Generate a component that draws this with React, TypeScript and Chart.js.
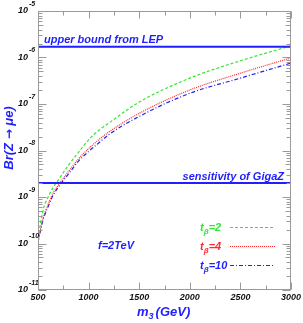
import React, { useEffect, useRef } from "react";
import { Chart, registerables } from "chart.js";

Chart.register(...registerables);

// ---- data ----
const m3 = [500, 550, 600, 650, 700, 800, 900, 1000, 1100, 1200, 1500, 2000, 2500, 3000];
const brTb2 = [1.32e-10, 5.2e-10, 1.0e-9, 1.6e-9, 2.3e-9, 4.8e-9, 9.1e-9, 1.7e-8, 2.7e-8, 3.9e-8, 1.1e-7, 3.6e-7, 8.5e-7, 1.78e-6];
const brTb4 = [1.12e-10, 3.5e-10, 6.9e-10, 1.23e-9, 1.78e-9, 3.5e-9, 6.6e-9, 1.1e-8, 1.7e-8, 2.5e-8, 6.3e-8, 2.0e-7, 4.6e-7, 9.8e-7];
const brTb10 = [1.07e-10, 3.2e-10, 6.2e-10, 1.1e-9, 1.62e-9, 3.1e-9, 5.9e-9, 9.5e-9, 1.45e-8, 2.2e-8, 5.4e-8, 1.7e-7, 3.6e-7, 7.6e-7];
const lepBound = 1.7e-6;
const gigaZ = 2.0e-9;
const xRange = [500, 3000];
const xTickLabels = [500, 1000, 1500, 2000, 2500, 3000];
const yExponents = [-11, -10, -9, -8, -7, -6, -5];
const seriesLabels = ["2", "4", "10"];

const FONT = "'Liberation Sans', Arial, sans-serif";
const BLUE = "#1f1fff";
const GREEN = "#33e633";
const RED = "#ff2a2a";
const AXIS = "#9a9a9a";

const pts = (ys: number[]) => m3.map((x, i) => ({ x, y: ys[i] }));
const flat = (v: number) => [{ x: xRange[0], y: v }, { x: xRange[1], y: v }];

const curveDash: Record<string, number[]> = {
  "2": [3, 2],
  "4": [1, 1],
  "10": [4, 2, 1, 2],
};
const curveColor: Record<string, string> = { "2": GREEN, "4": RED, "10": "#2323e6" };

const overlay = {
  id: "overlay",
  afterDraw(chart: any) {
    const { ctx, chartArea, scales } = chart;
    const { left, right, top, bottom } = chartArea;
    const xs = scales.x;
    const ys = scales.y;
    ctx.save();
    // frame
    ctx.strokeStyle = AXIS;
    ctx.lineWidth = 1;
    ctx.setLineDash([]);
    const L = Math.round(left) + 0.5, R = Math.round(right) - 0.5;
    const T = Math.round(top) + 0.5, B = Math.round(bottom) - 0.5;
    ctx.strokeRect(L, T, R - L, B - T);
    ctx.beginPath();
    // x ticks
    for (let v = xRange[0]; v <= xRange[1]; v += 250) {
      const px = Math.round(xs.getPixelForValue(v)) + 0.5;
      const len = v % 500 === 0 ? 7 : 4;
      ctx.moveTo(px, B); ctx.lineTo(px, B - len);
      ctx.moveTo(px, T); ctx.lineTo(px, T + len);
    }
    // y ticks
    for (const e of yExponents) {
      for (let k = 1; k <= 9; k++) {
        if (e === -5 && k > 1) break;
        const py = Math.round(ys.getPixelForValue(k * Math.pow(10, e))) + 0.5;
        const len = k === 1 ? 8 : k === 5 ? 5 : 4;
        ctx.moveTo(L, py); ctx.lineTo(L + len, py);
        ctx.moveTo(R, py); ctx.lineTo(R - len, py);
      }
    }
    ctx.stroke();

    // x tick labels
    ctx.fillStyle = "#111";
    ctx.font = `bold italic 9px ${FONT}`;
    ctx.textAlign = "center";
    ctx.textBaseline = "middle";
    for (const v of xTickLabels) {
      ctx.fillText(String(v), xs.getPixelForValue(v), 298);
    }
    // y tick labels 10^e
    for (const e of yExponents) {
      const py = ys.getPixelForValue(Math.pow(10, e));
      ctx.font = `bold italic 9px ${FONT}`;
      ctx.textAlign = "right";
      ctx.fillText("10", 28, py);
      ctx.font = `bold italic 7px ${FONT}`;
      ctx.textAlign = "left";
      ctx.fillText(String(e), 29, py - 7);
    }

    // annotations
    ctx.fillStyle = BLUE;
    ctx.font = `bold italic 11px ${FONT}`;
    ctx.textBaseline = "alphabetic";
    ctx.textAlign = "left";
    ctx.fillText("upper bound from LEP", 44, 43);
    ctx.textAlign = "right";
    ctx.fillText("sensitivity of GigaZ", 284, 180);
    ctx.textAlign = "left";
    ctx.fillText("f=2TeV", 98, 249);

    // legend
    const legY = [227, 246, 265];
    seriesLabels.forEach((lab, i) => {
      const y0 = legY[i];
      const col = curveColor[lab];
      ctx.fillStyle = lab === "2" ? GREEN : lab === "4" ? RED : BLUE;
      ctx.textAlign = "left";
      ctx.textBaseline = "alphabetic";
      ctx.font = `bold italic 11px ${FONT}`;
      let x0 = 200;
      ctx.fillText("t", x0, y0 + 4);
      x0 += ctx.measureText("t").width;
      ctx.font = `bold italic 8px ${FONT}`;
      ctx.fillText("\u03b2", x0, y0 + 7);
      x0 += ctx.measureText("\u03b2").width;
      ctx.font = `bold italic 11px ${FONT}`;
      ctx.fillText("=" + lab, x0, y0 + 4);
      ctx.strokeStyle = col;
      ctx.lineWidth = 1;
      ctx.setLineDash(curveDash[lab]);
      ctx.beginPath();
      ctx.moveTo(230, y0 + 0.5);
      ctx.lineTo(275, y0 + 0.5);
      ctx.stroke();
    });
    ctx.setLineDash([]);

    // axis titles
    ctx.fillStyle = BLUE;
    ctx.font = `bold italic 13px ${FONT}`;
    ctx.textAlign = "left";
    ctx.textBaseline = "alphabetic";
    let tx = 137;
    ctx.fillText("m", tx, 316);
    tx += ctx.measureText("m").width;
    ctx.font = `bold italic 9px ${FONT}`;
    ctx.fillText("3", tx, 319);
    tx += ctx.measureText("3").width + 2;
    ctx.font = `bold italic 13px ${FONT}`;
    ctx.fillText("(GeV)", tx, 316);

    // y title, drawn in pieces (arrow from DejaVu)
    ctx.save();
    ctx.translate(13, 138);
    ctx.rotate(-Math.PI / 2);
    ctx.textAlign = "left";
    const parts: [string, string][] = [
      ["Br(Z ", `bold italic 13px ${FONT}`],
      ["\u2192", `bold 12px 'DejaVu Sans', sans-serif`],
      [" \u03bce)", `bold italic 13px ${FONT}`],
    ];
    let total = 0;
    for (const [s, f] of parts) { ctx.font = f; total += ctx.measureText(s).width; }
    let px = -total / 2;
    for (const [s, f] of parts) {
      ctx.font = f;
      ctx.fillText(s, px, 0);
      px += ctx.measureText(s).width;
    }
    ctx.restore();

    ctx.restore();
  },
};

export default function App() {
  const ref = useRef<HTMLCanvasElement>(null);
  useEffect(() => {
    if (!ref.current) return;
    const line = (label: string, data: any, color: string, dash: number[], width = 1) => ({
      label,
      data,
      borderColor: color,
      borderWidth: width,
      borderDash: dash,
      pointRadius: 0,
      showLine: true,
      fill: false,
      cubicInterpolationMode: "monotone" as const,
    });
    const chart = new Chart(ref.current, {
      type: "scatter",
      data: {
        datasets: [
          line("LEP", flat(lepBound), BLUE, [], 2),
          line("GigaZ", flat(gigaZ), BLUE, [], 2),
          line("tb=2", pts(brTb2), GREEN, curveDash["2"], 1.2),
          line("tb=4", pts(brTb4), RED, curveDash["4"], 1.2),
          line("tb=10", pts(brTb10), curveColor["10"], curveDash["10"], 1.2),
        ],
      },
      options: {
        responsive: false,
        animation: false,
        devicePixelRatio: 1,
        layout: { padding: { left: 38, right: 12, top: 11, bottom: 33 } },
        plugins: { legend: { display: false }, tooltip: { enabled: false } },
        scales: {
          x: { type: "linear", min: xRange[0], max: xRange[1], display: false },
          y: { type: "logarithmic", min: 1e-11, max: 1e-5, display: false },
        },
      },
      plugins: [overlay],
    });
    return () => chart.destroy();
  }, []);
  return (
    <div style={{ position: "fixed", left: 0, top: 0, width: 303, height: 323, background: "#fff" }}>
      <canvas ref={ref} width={303} height={323} style={{ display: "block" }} />
    </div>
  );
}
